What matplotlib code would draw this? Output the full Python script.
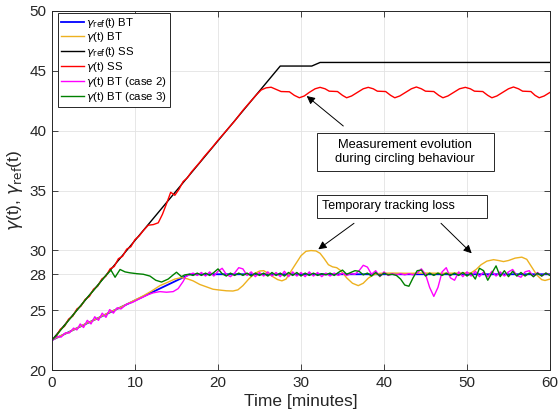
import numpy as np
import matplotlib
matplotlib.use('Agg')
import matplotlib.pyplot as plt
from matplotlib.patches import Rectangle

plt.rcParams['font.family'] = ['Liberation Sans', 'DejaVu Sans']
plt.rcParams['mathtext.fontset'] = 'dejavusans'

# ---------------- data ----------------
# reference trajectories
t_ref_bt = [0, 16.6, 60]
g_ref_bt = [22.5, 28.0, 28.0]
t_ref_ss = [0, 27.5, 31.3, 32.3, 60]
g_ref_ss = [22.5, 45.4, 45.4, 45.7, 45.7]

# gamma(t) SS (red)
t_ss = [0, 0.5, 1, 1.5, 2, 2.5, 3, 3.5, 4, 4.5, 5, 5.5, 6, 6.5, 7, 7.5, 8, 8.5, 9, 9.5,
        10, 10.5, 11, 11.6, 12.2, 12.8, 13.3, 13.8, 14.3, 14.8, 15.3, 15.8, 16.3, 16.8,
        17.3, 17.8, 18.3, 18.8, 19.3, 20, 21, 22, 23, 24,
        24.7, 25.2, 25.8, 26.4, 27.0, 27.6, 28.6, 29.2, 29.8, 30.4, 31.0, 31.7, 32.3, 32.9,
        33.4, 34.4, 35.0, 35.5, 36.1, 36.8, 37.5, 38.1, 38.7, 39.2, 40.2, 40.8, 41.3, 41.9,
        42.6, 43.3, 43.9, 44.5, 45.0, 46.0, 46.6, 47.1, 47.7, 48.4, 49.1, 49.8, 50.4, 50.9,
        51.9, 52.5, 53.0, 53.6, 54.3, 55.0, 55.6, 56.2, 56.7, 57.7, 58.2, 58.7, 59.3, 60.0]
g_ss = [22.5, 22.8, 23.4, 23.65, 24.25, 24.5, 25.1, 25.35, 25.9, 26.15, 26.75, 27.0, 27.6,
        27.85, 28.45, 28.65, 29.3, 29.5, 30.1, 30.3, 30.9, 31.2, 31.65, 32.1, 32.15, 32.3,
        33.0, 33.9, 34.85, 34.6, 35.1, 35.75, 36.05, 36.55, 36.95, 37.35, 37.8, 38.2, 38.6,
        39.2, 40.0, 40.8, 41.7, 42.5,
        43.05, 43.4, 43.58, 43.63, 43.45, 43.27, 43.25, 42.95, 42.75, 42.9, 43.2, 43.5, 43.62,
        43.5, 43.3, 43.27, 42.95, 42.75, 42.9, 43.2, 43.5, 43.62, 43.5, 43.3, 43.27, 42.95,
        42.75, 42.9, 43.2, 43.5, 43.65, 43.5, 43.3, 43.27, 42.95, 42.75, 42.9, 43.2, 43.5,
        43.62, 43.5, 43.3, 43.27, 42.95, 42.75, 42.9, 43.2, 43.5, 43.65, 43.5, 43.3, 43.27,
        42.95, 42.75, 42.9, 43.2]

# gamma(t) BT (orange)
t_bt = [0, 1, 2, 3, 4, 5, 6, 7, 8, 9, 10, 11, 12, 13, 14, 14.8, 15.6, 16.3, 17.0, 17.8,
        18.6, 19.4, 20.2, 21.0, 21.8, 22.4, 23.0, 23.7, 24.4, 25.0, 25.5, 26.0, 26.6, 27.2,
        27.7, 28.2, 28.7, 29.3, 30.0, 30.6, 31.2, 31.8, 32.3, 32.8, 33.3, 33.8, 34.3, 34.8,
        35.5, 36.2, 36.9, 37.5, 38.1, 38.7, 39.5, 41, 43, 45, 47, 49, 50.5, 51.1, 51.7,
        52.4, 53.2, 53.8, 54.4, 55.0, 55.8, 56.6, 57.2, 57.8, 58.4, 59.0, 59.4, 60]
g_bt = [22.5, 22.85, 23.15, 23.5, 23.85, 24.15, 24.5, 24.85, 25.15, 25.5, 25.85, 26.2,
        26.6, 27.05, 27.35, 27.6, 27.72, 27.62, 27.45, 27.15, 26.95, 26.75, 26.68, 26.62,
        26.6, 26.7, 27.05, 27.6, 28.05, 28.27, 28.3, 28.1, 27.8, 27.55, 27.45, 27.6, 28.15,
        28.8, 29.55, 29.92, 29.98, 29.95, 29.75, 29.3, 28.8, 28.62, 28.55, 28.3, 27.7, 27.25,
        27.05, 27.25, 27.67, 27.95, 28.08, 28.1, 28.08, 28.1, 28.08, 28.1, 28.12, 28.4, 28.8,
        29.1, 29.22, 29.15, 29.06, 29.15, 29.35, 29.43, 29.25, 28.6, 27.95, 27.55, 27.48, 27.6]

# gamma(t) BT case 2 (magenta)
t_c2_start = [0, 0.6, 1.1, 1.6, 2.1, 2.6, 3.0, 3.4, 3.8, 4.25, 4.7, 5.15, 5.6, 6.05, 6.5,
              6.95, 7.4, 7.85, 8.3, 9.0, 9.7, 10.4, 11.0, 11.6, 12.2, 13.0, 13.8, 14.6,
              15.2, 15.8, 16.1]
g_c2_start = [22.45, 22.8, 22.75, 23.1, 23.1, 23.5, 23.35, 23.85, 23.55, 24.15, 23.85,
              24.45, 24.15, 24.75, 24.4, 25.05, 24.75, 25.2, 25.1, 25.5, 25.65, 25.9, 26.1,
              26.3, 26.45, 26.55, 26.5, 26.55, 26.8, 27.4, 27.8]
g_c2_end = [27.95, 28.1, 27.9, 28.15, 27.85, 28.2, 27.85, 28.25, 28.5, 28.0, 27.8, 28.1,
            28.55, 28.45, 27.9, 28.2, 27.8, 28.15, 27.85, 28.2, 27.85, 28.15, 27.8, 28.25,
            27.8, 28.2, 27.85, 28.15, 27.8, 28.2, 27.85, 28.15, 27.8, 28.1, 27.85, 28.1,
            27.9, 28.1, 27.9, 28.05, 28.0, 28.3, 28.75, 28.6, 28.0, 28.3, 27.8, 28.2, 27.9,
            28.05, 27.95, 28.05, 27.95, 28.05, 27.95, 28.1, 28.45, 28.0, 26.9, 26.15, 26.9,
            28.2, 28.55, 27.7, 27.5, 28.2, 27.8, 28.2, 27.85, 28.25, 27.8, 28.2, 27.8, 28.25,
            27.85, 28.2, 27.85, 28.2, 28.4, 27.9, 27.75, 28.2, 28.3, 27.8, 28.15, 27.85, 28.1,
            27.95]

# gamma(t) BT case 3 (green)
t_c3_start = [0, 0.5, 1, 1.5, 2, 2.5, 3, 3.5, 4, 4.5, 5, 5.5, 6, 6.5, 7.1, 7.6, 8.2, 8.8,
              9.4, 10.2, 11.0, 11.8, 12.5, 13.2, 14.0, 14.6, 15.0, 15.6, 16.0]
g_c3_start = [22.5, 22.85, 23.3, 23.7, 24.15, 24.55, 25.0, 25.4, 25.85, 26.25, 26.65,
              27.05, 27.5, 27.9, 28.35, 27.75, 28.4, 28.2, 28.12, 28.05, 28.0, 27.85, 27.5,
              27.35, 27.6, 27.95, 28.17, 27.8, 27.95]
g_c3_end = [28.0, 27.9, 28.1, 27.9, 28.1, 27.9, 28.15, 28.45, 28.05, 27.85, 28.1, 27.9,
            28.1, 27.9, 28.1, 27.85, 28.1, 27.9, 28.1, 27.85, 28.15, 27.9, 28.1, 27.85,
            28.15, 27.9, 28.15, 27.85, 28.1, 27.9, 28.1, 27.9, 28.05, 27.95, 28.1, 27.9,
            28.15, 28.35, 28.0, 28.15, 28.3, 28.25, 27.95, 28.1, 27.85, 28.15, 27.85, 28.1,
            27.95, 28.0, 27.9, 27.6, 27.1, 27.0, 27.7, 28.3, 28.35, 27.85, 28.1, 27.9, 28.1,
            27.9, 28.1, 27.9, 28.1, 27.9, 28.15, 27.85, 28.1, 27.6, 28.5, 28.3, 27.5, 28.1,
            28.7, 27.8, 28.3, 27.8, 28.25, 27.85, 28.15, 27.85, 28.1, 27.8, 28.1, 27.85, 28.1,
            27.9]

t_end = np.arange(16.5, 60.01, 0.5)
t_c2 = np.concatenate([t_c2_start, t_end])
g_c2 = np.concatenate([g_c2_start, g_c2_end])
t_c3 = np.concatenate([t_c3_start, t_end])
g_c3 = np.concatenate([g_c3_start, g_c3_end])

labels = [r'$\gamma_{\rm ref}$(t) BT', r'$\gamma$(t) BT', r'$\gamma_{\rm ref}$(t) SS',
          r'$\gamma$(t) SS', r'$\gamma$(t) BT (case 2)', r'$\gamma$(t) BT (case 3)']
x_ticks = [0, 10, 20, 30, 40, 50, 60]
y_ticks = [20, 25, 28, 30, 35, 40, 45, 50]

# ---------------- figure ----------------
fig = plt.figure(figsize=(5.6, 4.15), dpi=100)
ax = fig.add_axes([52 / 560, 1 - 370 / 415, 498 / 560, 359 / 415])

ax.plot(t_ref_bt, g_ref_bt, color='#0000ff', lw=1.3, label=labels[0])
ax.plot(t_bt, g_bt, color='#EDB120', lw=1.0, label=labels[1])
ax.plot(t_ref_ss, g_ref_ss, color='k', lw=1.0, label=labels[2])
ax.plot(t_ss, g_ss, color='#ff0000', lw=1.0, label=labels[3])
ax.plot(t_c2, g_c2, color='#ff00ff', lw=1.0, label=labels[4])
ax.plot(t_c3, g_c3, color='#008000', lw=1.0, label=labels[5])

ax.set_xlim(0, 60)
ax.set_ylim(20, 50)
ax.set_xticks(x_ticks)
ax.set_yticks(y_ticks)
ax.grid(True, color='#e3e3e3', lw=0.6)
ax.set_axisbelow(True)
ax.tick_params(direction='in', top=True, right=True, length=4, width=0.6,
               labelsize=11, colors='#262626', pad=4)
for s in ax.spines.values():
    s.set_color('#262626')
    s.set_linewidth(0.7)

ax.set_xlabel('Time [minutes]', fontsize=12.5, color='#262626', labelpad=3)
ax.set_ylabel(r'$\gamma$(t), $\gamma_{\rm ref}$(t)', fontsize=12.5, color='#262626', labelpad=3)

leg = ax.legend(loc='upper left', bbox_to_anchor=(0.0127, 0.9953), borderaxespad=0,
                fontsize=8.2, fancybox=False, framealpha=1, edgecolor='#262626',
                handlelength=2.0, handletextpad=0.2, labelspacing=0.08,
                borderpad=0.25)
leg.get_frame().set_linewidth(0.7)

# annotation boxes
def px2ax(x, y):
    return ((x - 52) / 498, (370 - y) / 359)

x0, y0 = px2ax(316.7, 171)
x1, y1 = px2ax(494, 132.7)
ax.add_patch(Rectangle((x0, y0), x1 - x0, y1 - y0, transform=ax.transAxes,
                       fill=True, facecolor='white', edgecolor='#262626', lw=0.7, zorder=5))
ax.text((x0 + x1) / 2, (y0 + y1) / 2, 'Measurement evolution\nduring circling behaviour',
        transform=ax.transAxes, ha='center', va='center', fontsize=9.3, zorder=6,
        linespacing=1.2)

x0, y0 = px2ax(317.3, 218)
x1, y1 = px2ax(487.3, 195)
ax.add_patch(Rectangle((x0, y0), x1 - x0, y1 - y0, transform=ax.transAxes,
                       fill=True, facecolor='white', edgecolor='#262626', lw=0.7, zorder=5))
ax.text(x0 + 0.009, (y0 + y1) / 2, 'Temporary tracking loss',
        transform=ax.transAxes, ha='left', va='center', fontsize=9.0, zorder=6)

arrow = dict(arrowstyle='-|>', color='k', lw=0.7, mutation_scale=12, shrinkA=0, shrinkB=0)
for (xa, ya), (xb, yb) in [((343.3, 126), (306.7, 96)),
                           ((354, 223.3), (318.3, 249.3)),
                           ((441, 223.3), (471.7, 253.3))]:
    ax.annotate('', xy=px2ax(xb, yb), xytext=px2ax(xa, ya), xycoords='axes fraction',
                textcoords='axes fraction', arrowprops=arrow, zorder=7)

fig.savefig('out.png', dpi=100)
